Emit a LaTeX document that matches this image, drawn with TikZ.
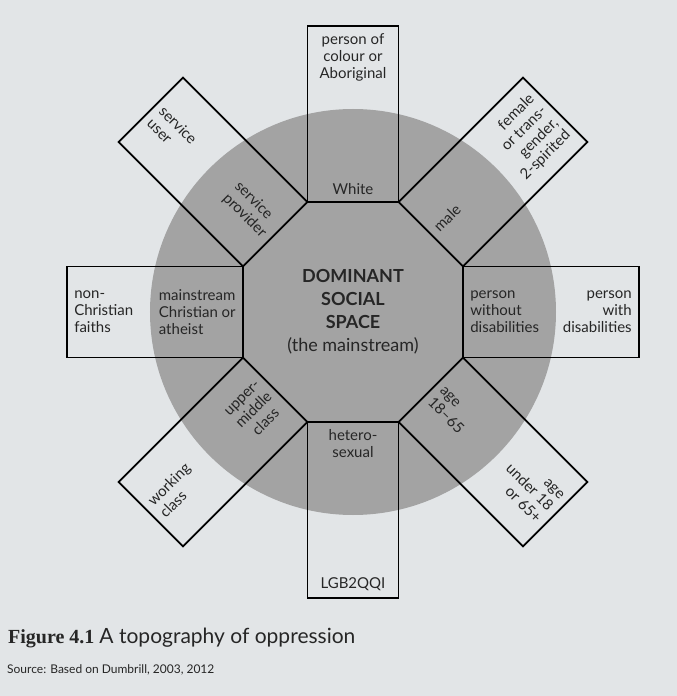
\documentclass[tikz,border=0pt]{standalone}
\usepackage{fontspec}
\setmainfont{Lato}
\newfontfamily\figfont{Liberation Serif}
\usetikzlibrary{positioning}

\definecolor{paper}{RGB}{226,229,231}
\definecolor{mainstream}{RGB}{163,163,163}

\begin{document}
\begin{tikzpicture}[x=1pt, y=1pt,
  arm/.style={draw, line width=1.8pt, minimum width=176pt, minimum height=91pt, inner sep=0pt},
  tallarm/.style={arm, minimum width=91pt, minimum height=176pt},
  lbl/.style={font=\fontsize{15}{17}\selectfont, text=black!85, inner sep=8pt}]
  % page and the shaded circle
  \fill[paper] (-353,-384) rectangle (324,312);
  \useasboundingbox (-353,-384) rectangle (324,312);
  \fill[mainstream] (0,0) circle (203);

  % the eight arms, inner edges 110 from the centre
  \node[tallarm] (race) at (90:198) {};
  \node[arm, rotate=45] (gender) at (45:198) {};
  \node[arm] (ability) at (0:198) {};
  \node[arm, rotate=-45] (age) at (-45:198) {};
  \node[tallarm] (sexuality) at (-90:198) {};
  \node[arm, rotate=45] (class) at (-135:198) {};
  \node[arm] (religion) at (180:198) {};
  \node[arm, rotate=-45] (service) at (135:198) {};

  \node[align=center, text=black!85, font=\fontsize{18}{23}\selectfont] (centre) at (0,0)
    {\textbf{DOMINANT}\\\textbf{SOCIAL}\\\textbf{SPACE}\\(the mainstream)};

  % labels: inner end = mainstream, outer end = margin
  \node[lbl, anchor=south] (raceIn) at (race.south) {White};
  \node[lbl, anchor=north, align=center] (raceOut) at (race.north) {person of\\colour or\\Aboriginal};
  \node[lbl, rotate=45, anchor=west] (genderIn) at (gender.west) {male};
  \node[lbl, rotate=45, anchor=east, align=right] (genderOut) at (gender.east) {female\\or trans-\\gender,\\2-spirited};
  \node[lbl, anchor=west, align=left] (abilityIn) at (ability.west) {person\\without\\disabilities};
  \node[lbl, anchor=east, align=right] (abilityOut) at (ability.east) {person\\with\\disabilities};
  \node[lbl, rotate=-45, anchor=west, align=left] (ageIn) at (age.west) {age\\18--65};
  \node[lbl, rotate=-45, anchor=east, align=right] (ageOut) at (age.east) {age\\under 18\\or 65+};
  \node[lbl, anchor=north, align=center] (sexualityIn) at (sexuality.north) {hetero-\\sexual};
  \node[lbl, anchor=south] (sexualityOut) at (sexuality.south) {LGB2QQI};
  \node[lbl, rotate=45, anchor=east, align=center] (classIn) at (class.east) {upper-\\middle\\class};
  \node[lbl, rotate=45, anchor=west, align=left] (classOut) at (class.west) {working\\class};
  \node[lbl, anchor=east, align=left] (religionIn) at (religion.east) {mainstream\\Christian or\\atheist};
  \node[lbl, anchor=west, align=left] (religionOut) at (religion.west) {non-\\Christian\\faiths};
  \node[lbl, rotate=-45, anchor=east, align=left] (serviceIn) at (service.east) {service\\provider};
  \node[lbl, rotate=-45, anchor=west, align=left] (serviceOut) at (service.west) {service\\user};

  % caption
  \node[anchor=base west, inner sep=0pt, text=black!85] (caption) at (-345,-331)
    {{\figfont\bfseries\fontsize{20}{22}\selectfont Figure 4.1}\enspace{\fontsize{21}{23}\selectfont A topography of oppression}};
  \node[anchor=base west, inner sep=0pt, text=black!85, font=\fontsize{12}{14}\selectfont] (source) at (-346,-361)
    {Source: Based on Dumbrill, 2003, 2012};
\end{tikzpicture}
\end{document}
